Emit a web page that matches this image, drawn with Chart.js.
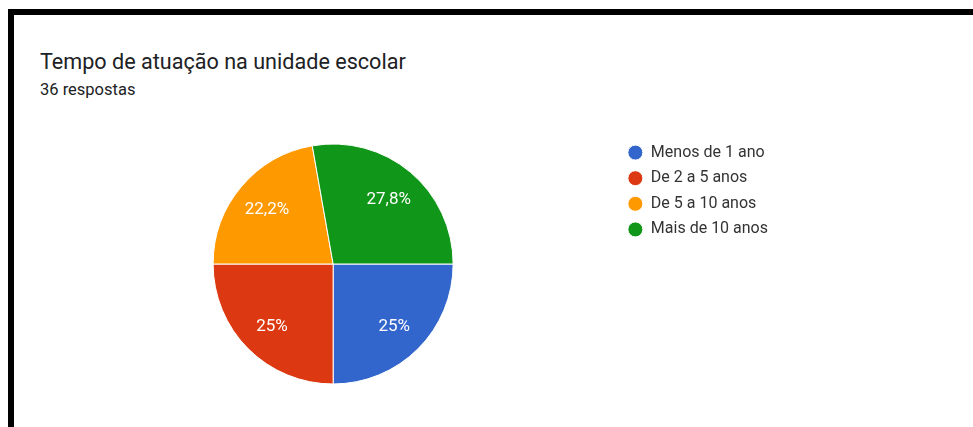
<!DOCTYPE html>
<html lang="pt">
<head>
<meta charset="utf-8">
<title>Tempo de atuação na unidade escolar</title>
<script src="https://cdn.jsdelivr.net/npm/chart.js@4.4.1/dist/chart.umd.min.js"></script>
<style>
  html, body { margin: 0; padding: 0; background: #fff; }
  body { width: 973px; height: 427px; position: relative; overflow: hidden; font-family: Roboto, Arial, sans-serif; }
  .frame { position: absolute; left: 8px; top: 9px; right: -20px; bottom: -20px;
           border-top: 6px solid #000; border-left: 6px solid #000; }
  .title { position: absolute; left: 40px; top: 51px; font-size: 21.6px; line-height: 1; color: #202124; white-space: nowrap; }
  .subtitle { position: absolute; left: 40px; top: 82px; font-size: 16.5px; line-height: 1; color: #202124; white-space: nowrap; }
  .chart-box { position: absolute; left: 0; top: 0; width: 973px; height: 427px; }
</style>
</head>
<body>
<div class="frame"></div>
<div class="title">Tempo de atuação na unidade escolar</div>
<div class="subtitle">36 respostas</div>
<div class="chart-box"><canvas id="chart"></canvas></div>
<script>
const labels = ["Menos de 1 ano", "De 2 a 5 anos", "De 5 a 10 anos", "Mais de 10 anos"];
const counts = [9, 9, 8, 10];
const colors = ["#3366cc", "#dc3912", "#ff9900", "#109618"];

const total = counts.reduce((a, b) => a + b, 0);

function pctLabel(v) {
  const p = (v / total) * 100;
  let s = p.toFixed(1);
  if (s.endsWith(".0")) s = s.slice(0, -2);
  return s.replace(".", ",") + "%";
}

// draws the percentage inside each slice, like the Google Forms pie
const sliceLabels = {
  id: "sliceLabels",
  afterDatasetsDraw(chart) {
    const { ctx } = chart;
    const meta = chart.getDatasetMeta(0);
    ctx.save();
    ctx.fillStyle = "#ffffff";
    ctx.font = "17px Roboto, Arial, sans-serif";
    ctx.textAlign = "center";
    ctx.textBaseline = "middle";
    meta.data.forEach((arc, i) => {
      const { x, y, startAngle, endAngle, outerRadius } = arc.getProps(
        ["x", "y", "startAngle", "endAngle", "outerRadius"], true);
      const mid = (startAngle + endAngle) / 2;
      const r = outerRadius * 0.72;
      ctx.fillText(pctLabel(counts[i]), x + Math.cos(mid) * r, y + Math.sin(mid) * r + 1.5);
    });
    ctx.restore();
  },
};

new Chart(document.getElementById("chart"), {
  type: "pie",
  data: {
    labels,
    datasets: [{
      data: counts,
      backgroundColor: colors,
      borderColor: "#ffffff",
      borderWidth: 1,
      radius: 120,
    }],
  },
  options: {
    animation: false,
    responsive: true,
    maintainAspectRatio: false,
    rotation: 90,
    layout: {
      padding: { top: 135, bottom: 34, left: 48, right: 195 },
    },
    plugins: {
      tooltip: { enabled: false },
      legend: {
        position: "right",
        align: "start",
        labels: {
          usePointStyle: true,
          pointStyle: "circle",
          pointStyleWidth: 15,
          boxHeight: 10.6,
          padding: 9.6,
          color: "#333333",
          font: { family: "Roboto, Arial, sans-serif", size: 16 },
        },
      },
    },
  },
  plugins: [sliceLabels],
});
</script>
</body>
</html>
